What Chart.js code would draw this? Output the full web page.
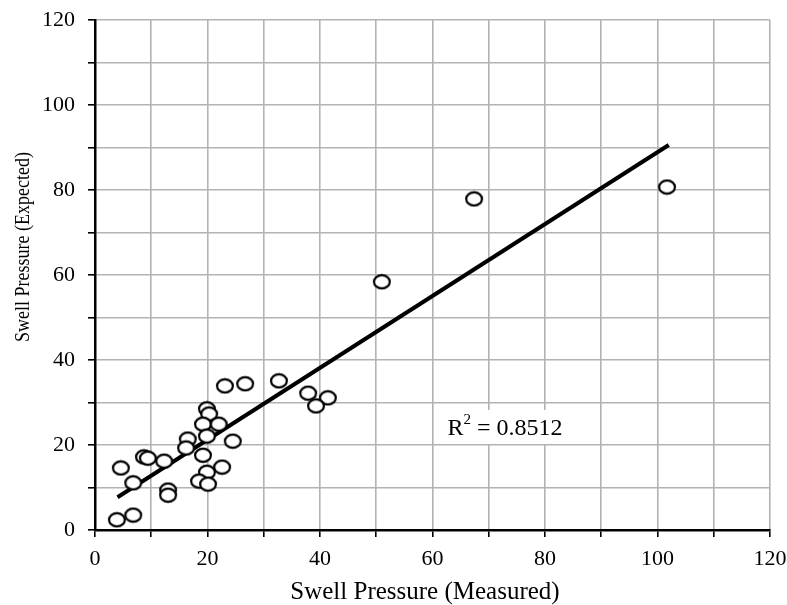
<!DOCTYPE html>
<html>
<head>
<meta charset="utf-8">
<script src="https://cdn.jsdelivr.net/npm/chart.js@4"></script>
<style>
  html, body { margin: 0; padding: 0; background: #fff; }
  #wrap { width: 787px; height: 605px; }
</style>
</head>
<body>
<div id="wrap"><canvas id="chart1"></canvas></div>
<script>
// measured vs expected swell pressure
const measured = [101.7, 67.4, 51.0, 32.7, 26.7, 23.1, 37.9, 41.4, 39.3, 19.9, 20.3,
    19.2, 22.0, 16.5, 19.9, 24.5, 16.2, 19.2, 8.7, 9.4, 12.3, 4.6, 22.6, 19.9,
    18.5, 20.1, 6.8, 13.0, 13.0, 3.9, 6.8];
const expected = [80.7, 77.9, 58.4, 35.1, 34.4, 33.9, 32.2, 31.1, 29.2, 28.5, 27.3,
    24.9, 24.9, 21.4, 22.1, 20.9, 19.3, 17.6, 17.2, 16.9, 16.2, 14.6, 14.8, 13.6,
    11.5, 10.8, 11.1, 9.4, 8.2, 2.4, 3.5];

// trend line end points
const trendX = [4, 102];
const trendY = [7.7, 90.6];
const rSquared = '0.8512';

const fontFamily = "'Liberation Serif', 'Times New Roman', serif";

// the markers in the picture are slightly wider than tall
const marker = document.createElement('canvas');
marker.width = 20;
marker.height = 17;
const mctx = marker.getContext('2d');
mctx.fillStyle = '#fff';
mctx.strokeStyle = '#000';
mctx.lineWidth = 2.2;
mctx.beginPath();
mctx.ellipse(10, 8.5, 7.9, 6.6, 0, 0, Math.PI * 2);
mctx.fill();
mctx.stroke();

function drawTitle(ctx, text, x, y, size, sy, rot) {
    ctx.save();
    ctx.translate(x, y);
    if (rot) ctx.rotate(rot);
    ctx.scale(1, sy);
    ctx.fillStyle = '#000';
    ctx.textAlign = 'center';
    ctx.textBaseline = 'middle';
    ctx.font = size + 'px ' + fontFamily;
    ctx.fillText(text, 0, 0);
    ctx.restore();
}

const labels = {
    id: 'labels',
    afterDraw(chart) {
        const ctx = chart.ctx;
        drawTitle(ctx, 'Swell Pressure (Expected)', 23, 247, 18, 1.2, -Math.PI / 2);
        drawTitle(ctx, 'Swell Pressure (Measured)', 425, 592, 25, 1, 0);
    },
    afterDatasetsDraw(chart) {
        const ctx = chart.ctx;
        const x = chart.scales.x.getPixelForValue(73.5);
        const y = chart.scales.y.getPixelForValue(24);
        ctx.save();
        ctx.fillStyle = '#fff';
        ctx.fillRect(x - 63, y - 18, 129, 34);
        ctx.fillStyle = '#000';
        ctx.textBaseline = 'middle';
        ctx.font = '24px ' + fontFamily;
        let cx = x - 61;
        ctx.fillText('R', cx, y + 1);
        cx += ctx.measureText('R').width;
        ctx.font = '15px ' + fontFamily;
        ctx.fillText('2', cx, y - 8);
        cx += ctx.measureText('2').width;
        ctx.font = '24px ' + fontFamily;
        ctx.fillText(' = ' + rSquared, cx, y + 1);
        ctx.restore();
    }
};

new Chart(document.getElementById('chart1'), {
    type: 'scatter',
    data: {
        datasets: [{
            label: 'Swell Pressure',
            data: measured.map((m, i) => ({ x: m, y: expected[i] })),
            pointStyle: marker,
            pointRadius: 8,
            borderColor: '#000',
            backgroundColor: '#fff'
        }, {
            label: 'Trend',
            type: 'line',
            data: trendX.map((t, i) => ({ x: t, y: trendY[i] })),
            borderColor: '#000',
            borderWidth: 4,
            pointRadius: 0,
            fill: false
        }]
    },
    options: {
        responsive: true,
        maintainAspectRatio: false,
        animation: false,
        layout: { padding: { left: 0, top: 20, right: 17, bottom: 0 } },
        plugins: {
            legend: { display: false },
            tooltip: { enabled: false }
        },
        scales: {
            x: {
                type: 'linear',
                min: 0,
                max: 120,
                afterFit: (scale) => {
                    scale.height = 75;
                    scale.paddingLeft = 0;
                    scale.paddingRight = 0;
                },
                border: { color: '#000', width: 2.5 },
                grid: { color: '#b3b3b3', lineWidth: 1.6, tickColor: '#000', tickLength: 7 },
                ticks: {
                    stepSize: 10,
                    autoSkip: false,
                    maxRotation: 0,
                    color: '#000',
                    padding: 9,
                    font: { family: fontFamily, size: 22 },
                    callback: (v) => (v % 20 === 0 ? v : '')
                }
            },
            y: {
                type: 'linear',
                min: 0,
                max: 120,
                afterFit: (scale) => {
                    scale.width = 95;
                    scale.paddingTop = 0;
                    scale.paddingBottom = 0;
                },
                border: { color: '#000', width: 2.5 },
                grid: { color: '#b3b3b3', lineWidth: 1.6, tickColor: '#000', tickLength: 7 },
                ticks: {
                    stepSize: 10,
                    autoSkip: false,
                    color: '#000',
                    padding: 13,
                    font: { family: fontFamily, size: 22 },
                    callback: (v) => (v % 20 === 0 ? v : '')
                }
            }
        }
    },
    plugins: [labels]
});
</script>
</body>
</html>
